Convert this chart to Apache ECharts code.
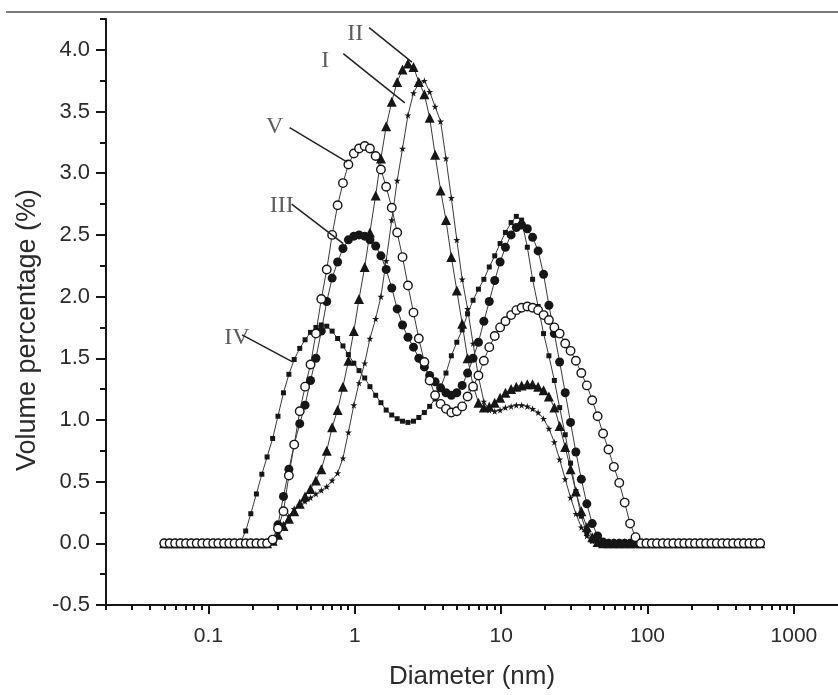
<!DOCTYPE html>
<html>
<head>
<meta charset="utf-8">
<script src="https://cdn.jsdelivr.net/npm/echarts@6/dist/echarts.min.js"></script>
<style>
  html, body { margin: 0; padding: 0; background: #ffffff; }
  #chart { width: 838px; height: 695px; }
</style>
</head>
<body>
<div id="chart"></div>
<script>
// Particle diameter grid (nm), log-spaced bins
const diameters = [
  0.0500, 0.0544, 0.0593, 0.0645, 0.0703, 0.0765, 0.0833, 0.0908, 0.0988, 0.108,
  0.117, 0.128, 0.139, 0.151, 0.165, 0.180, 0.195, 0.213, 0.232, 0.252,
  0.275, 0.299, 0.326, 0.355, 0.386, 0.421, 0.458, 0.499, 0.543, 0.591,
  0.644, 0.701, 0.764, 0.831, 0.905, 0.986, 1.07, 1.17, 1.27, 1.39,
  1.51, 1.64, 1.79, 1.95, 2.12, 2.31, 2.52, 2.74, 2.99, 3.25,
  3.54, 3.86, 4.20, 4.57, 4.98, 5.42, 5.90, 6.43, 7.00, 7.62,
  8.30, 9.04, 9.84, 10.7, 11.7, 12.7, 13.8, 15.1, 16.4, 17.9,
  19.5, 21.2, 23.1, 25.1, 27.4, 29.8, 32.4, 35.3, 38.5, 41.9,
  45.6, 49.7, 54.1, 58.9, 64.1, 69.8, 76.0, 82.8, 90.2, 98.2,
  107, 116, 127, 138, 150, 164, 178, 194, 211, 230,
  251, 273, 297, 324, 352, 384, 418, 455, 496, 540, 588
];

// Volume percentage (%) per bin for each sample
const sampleI = [
  0, 0, 0, 0, 0, 0, 0, 0, 0, 0,
  0, 0, 0, 0, 0, 0, 0, 0, 0, 0,
  0.02, 0.08, 0.15, 0.22, 0.28, 0.31, 0.34, 0.37, 0.40, 0.43,
  0.46, 0.51, 0.57, 0.69, 0.90, 1.12, 1.30, 1.46, 1.66, 1.82,
  2.00, 2.29, 2.62, 2.94, 3.20, 3.47, 3.65, 3.73, 3.75, 3.66,
  3.54, 3.42, 3.12, 2.80, 2.46, 2.14, 1.90, 1.62, 1.35, 1.15,
  1.08, 1.07, 1.08, 1.10, 1.11, 1.12, 1.12, 1.11, 1.09, 1.06,
  1.01, 0.93, 0.82, 0.68, 0.52, 0.37, 0.24, 0.13, 0.06, 0.02,
  0, 0, 0, 0, 0, 0, 0, 0, 0, 0,
  0, 0, 0, 0, 0, 0, 0, 0, 0, 0,
  0, 0, 0, 0, 0, 0, 0, 0, 0, 0, 0
];

const sampleII = [
  0, 0, 0, 0, 0, 0, 0, 0, 0, 0,
  0, 0, 0, 0, 0, 0, 0, 0, 0, 0,
  0.02, 0.07, 0.14, 0.20, 0.26, 0.32, 0.38, 0.44, 0.51, 0.60,
  0.75, 0.94, 1.08, 1.27, 1.48, 1.72, 1.98, 2.24, 2.52, 2.82,
  3.12, 3.38, 3.58, 3.74, 3.84, 3.89, 3.86, 3.74, 3.64, 3.45,
  3.15, 2.86, 2.62, 2.32, 2.05, 1.78, 1.50, 1.28, 1.14, 1.10,
  1.11, 1.14, 1.18, 1.22, 1.25, 1.27, 1.28, 1.29, 1.29, 1.27,
  1.24, 1.19, 1.10, 0.95, 0.78, 0.60, 0.42, 0.26, 0.13, 0.05,
  0.01, 0, 0, 0, 0, 0, 0, 0, 0, 0,
  0, 0, 0, 0, 0, 0, 0, 0, 0, 0,
  0, 0, 0, 0, 0, 0, 0, 0, 0, 0, 0
];

const sampleIII = [
  0, 0, 0, 0, 0, 0, 0, 0, 0, 0,
  0, 0, 0, 0, 0, 0, 0, 0, 0, 0,
  0.02, 0.15, 0.38, 0.60, 0.80, 0.97, 1.12, 1.32, 1.50, 1.72,
  1.96, 2.15, 2.28, 2.39, 2.46, 2.49, 2.50, 2.49, 2.46, 2.41,
  2.33, 2.22, 2.07, 1.90, 1.77, 1.67, 1.59, 1.50, 1.43, 1.36,
  1.31, 1.26, 1.22, 1.20, 1.22, 1.28, 1.38, 1.50, 1.63, 1.80,
  1.96, 2.13, 2.28, 2.40, 2.50, 2.56, 2.58, 2.55, 2.48, 2.37,
  2.18, 1.93, 1.70, 1.47, 1.22, 0.98, 0.74, 0.52, 0.32, 0.16,
  0.06, 0.01, 0, 0, 0, 0, 0, 0, 0, 0,
  0, 0, 0, 0, 0, 0, 0, 0, 0, 0,
  0, 0, 0, 0, 0, 0, 0, 0, 0, 0, 0
];

const sampleIV = [
  0, 0, 0, 0, 0, 0, 0, 0, 0, 0,
  0, 0, 0, 0, 0, 0.10, 0.24, 0.40, 0.56, 0.70,
  0.85, 1.03, 1.22, 1.37, 1.49, 1.58, 1.65, 1.71, 1.75, 1.77,
  1.76, 1.72, 1.66, 1.60, 1.53, 1.46, 1.40, 1.34, 1.27, 1.20,
  1.14, 1.08, 1.04, 1.01, 0.99, 0.98, 0.99, 1.02, 1.06, 1.11,
  1.17, 1.26, 1.38, 1.52, 1.63, 1.73, 1.86, 1.97, 2.06, 2.14,
  2.24, 2.33, 2.43, 2.52, 2.60, 2.65, 2.62, 2.40, 2.14, 1.92,
  1.70, 1.52, 1.32, 1.10, 0.88, 0.65, 0.42, 0.22, 0.08, 0.02,
  0, 0, 0, 0, 0, 0, 0, 0, 0, 0,
  0, 0, 0, 0, 0, 0, 0, 0, 0, 0,
  0, 0, 0, 0, 0, 0, 0, 0, 0, 0, 0
];

const sampleV = [
  0, 0, 0, 0, 0, 0, 0, 0, 0, 0,
  0, 0, 0, 0, 0, 0, 0, 0, 0, 0,
  0.03, 0.12, 0.26, 0.55, 0.80, 1.07, 1.27, 1.45, 1.70, 1.98,
  2.22, 2.50, 2.74, 2.92, 3.07, 3.16, 3.20, 3.22, 3.20, 3.14,
  3.03, 2.89, 2.72, 2.52, 2.32, 2.09, 1.87, 1.66, 1.47, 1.32,
  1.20, 1.13, 1.09, 1.06, 1.07, 1.11, 1.19, 1.27, 1.36, 1.48,
  1.59, 1.68, 1.75, 1.80, 1.85, 1.89, 1.91, 1.92, 1.91, 1.89,
  1.85, 1.81, 1.75, 1.70, 1.62, 1.56, 1.48, 1.38, 1.28, 1.16,
  1.03, 0.89, 0.76, 0.62, 0.49, 0.33, 0.16, 0.05, 0, 0,
  0, 0, 0, 0, 0, 0, 0, 0, 0, 0,
  0, 0, 0, 0, 0, 0, 0, 0, 0, 0, 0
];

// Axis ticks
const xMajorTicks = [0.1, 1, 10, 100, 1000];
const xMinorTicks = [
  0.02, 0.03, 0.04, 0.05, 0.06, 0.07, 0.08, 0.09,
  0.2, 0.3, 0.4, 0.5, 0.6, 0.7, 0.8, 0.9,
  2, 3, 4, 5, 6, 7, 8, 9,
  20, 30, 40, 50, 60, 70, 80, 90,
  200, 300, 400, 500, 600, 700, 800, 900
];
const yMajorTicks = [-0.5, 0, 0.5, 1.0, 1.5, 2.0, 2.5, 3.0, 3.5, 4.0];
const yMinorTicks = [-0.25, 0.25, 0.75, 1.25, 1.75, 2.25, 2.75, 3.25, 3.75, 4.25];

// Curve labels with leader lines (data coordinates)
const curveNames   = ['I', 'II', 'III', 'IV', 'V'];
const nameAnchors  = [[0.630, 3.91], [1.008, 4.13], [0.317, 2.74], [0.157, 1.67], [0.284, 3.38]];
const leaderStarts = [[0.835, 3.97], [1.254, 4.18], [0.371, 2.75], [0.170, 1.69], [0.359, 3.37]];
const leaderEnds   = [[2.197, 3.57], [2.458, 3.90], [0.835, 2.43], [0.376, 1.47], [0.889, 3.09]];

const INK = '#161616';
const TEXT = '#2b2b2b';
const SANS = '"Liberation Sans", Arial, Helvetica, sans-serif';
const SERIF = '"Liberation Serif", "Times New Roman", serif';
const STAR = 'path://M50,0 L61,35 L98,35 L68,57 L79,91 L50,70 L21,91 L32,57 L2,35 L39,35 Z';

const toPairs = vals => diameters.map((d, i) => [d, vals[i]]);

function curve(name, values, symbol, size, filled) {
  return {
    name: name,
    type: 'line',
    xAxisIndex: 0,
    yAxisIndex: 0,
    data: toPairs(values),
    symbol: symbol,
    symbolSize: size,
    showAllSymbol: true,
    lineStyle: { color: '#3a3a3a', width: 1 },
    itemStyle: filled
      ? { color: INK, borderColor: INK, borderWidth: 0 }
      : { color: '#ffffff', borderColor: INK, borderWidth: 1.4 },
    emphasis: { disabled: true },
    z: 3
  };
}

const chart = echarts.init(document.getElementById('chart'), null, { renderer: 'canvas' });

chart.setOption({
  animation: false,
  backgroundColor: '#ffffff',
  grid: { left: 106, top: 19, right: -4, bottom: 84, containLabel: false },
  xAxis: [
    {
      type: 'log',
      min: 0.02,
      max: 2000,
      position: 'bottom',
      axisLine: { show: true, onZero: false, lineStyle: { color: INK, width: 2 } },
      axisTick: { show: true, customValues: xMajorTicks, length: 9, lineStyle: { color: INK, width: 2 } },
      axisLabel: {
        customValues: xMajorTicks,
        formatter: v => String(+Number(v).toPrecision(6)),
        fontFamily: SANS, fontSize: 21, color: TEXT, margin: 21
      },
      splitLine: { show: false },
      minorTick: { show: false },
      name: 'Diameter (nm)',
      nameLocation: 'middle',
      nameGap: 59,
      nameTextStyle: { fontFamily: SANS, fontSize: 26, color: TEXT }
    },
    {
      type: 'log',
      min: 0.02,
      max: 2000,
      position: 'bottom',
      axisLine: { show: false, onZero: false },
      axisTick: { show: true, customValues: xMinorTicks, length: 5, lineStyle: { color: INK, width: 2 } },
      axisLabel: { show: false },
      splitLine: { show: false }
    }
  ],
  yAxis: [
    {
      type: 'value',
      min: -0.5,
      max: 4.25,
      position: 'left',
      axisLine: { show: true, onZero: false, lineStyle: { color: INK, width: 2 } },
      axisTick: { show: true, customValues: yMajorTicks, length: 10, lineStyle: { color: INK, width: 2 } },
      axisLabel: {
        customValues: yMajorTicks,
        formatter: v => Number(v).toFixed(1),
        fontFamily: SANS, fontSize: 22, color: TEXT, margin: 16
      },
      splitLine: { show: false },
      name: 'Volume percentage (%)',
      nameLocation: 'middle',
      nameGap: 65,
      nameRotate: 90,
      nameTextStyle: { fontFamily: SANS, fontSize: 27, color: TEXT, padding: [0, 36, 0, 0] }
    },
    {
      type: 'value',
      min: -0.5,
      max: 4.25,
      position: 'left',
      axisLine: { show: false, onZero: false },
      axisTick: { show: true, customValues: yMinorTicks, length: 6, lineStyle: { color: INK, width: 2 } },
      axisLabel: { show: false },
      splitLine: { show: false }
    }
  ],
  graphic: [
    {
      type: 'line',
      shape: { x1: 6, y1: 12, x2: 838, y2: 12 },
      style: { stroke: '#7a7a7a', lineWidth: 2 },
      silent: true
    }
  ],
  series: [
    curve('IV', sampleIV, 'rect', 5, true),
    curve('I', sampleI, STAR, 7, true),
    curve('II', sampleII, 'triangle', 10, true),
    curve('III', sampleIII, 'circle', 9, true),
    curve('V', sampleV, 'circle', 8.5, false),
    {
      name: 'labels',
      type: 'scatter',
      xAxisIndex: 0,
      yAxisIndex: 0,
      data: curveNames.map((n, i) => [nameAnchors[i][0], nameAnchors[i][1], n]),
      symbolSize: 1,
      itemStyle: { color: 'rgba(0,0,0,0)' },
      label: {
        show: true,
        position: 'inside',
        formatter: p => p.value[2],
        fontFamily: SERIF,
        fontSize: 24,
        color: '#333333'
      },
      markLine: {
        silent: true,
        symbol: ['none', 'none'],
        label: { show: false },
        lineStyle: { color: '#222222', width: 1.5, type: 'solid' },
        data: curveNames.map((n, i) => [{ coord: leaderStarts[i] }, { coord: leaderEnds[i] }])
      },
      emphasis: { disabled: true },
      z: 5
    }
  ]
});
</script>
</body>
</html>
